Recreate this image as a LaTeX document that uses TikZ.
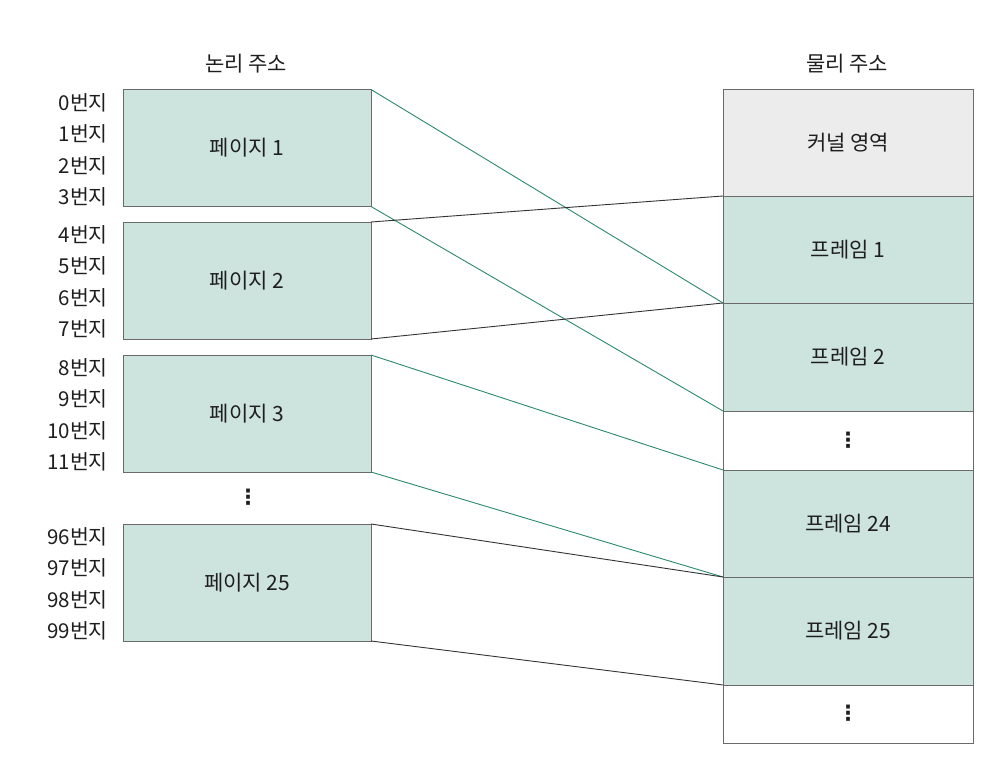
\documentclass[tikz,border=0pt]{standalone}
\usepackage{fontspec}
\setmainfont{Noto Sans CJK KR}
\newfontfamily\dvs{DejaVu Sans}
\definecolor{pagefill}{HTML}{CDE3DE}
\definecolor{kernfill}{HTML}{ECECEC}
\definecolor{boxline}{HTML}{6A6A6A}
\definecolor{mapgreen}{HTML}{2A8A6C}
\definecolor{mapblack}{HTML}{333333}
\definecolor{txt}{HTML}{1E1E1E}
\tikzset{
  membox/.style={draw=boxline, line width=0.8pt, inner sep=0pt, outer sep=0pt,
    text=txt, font=\fontsize{21}{24}\selectfont, rectangle},
  leftbox/.style={membox, fill=pagefill, minimum width=248pt, minimum height=117pt},
  rightbox/.style={membox, minimum width=250pt},
  addr/.style={anchor=east, inner sep=0pt, text=txt, font=\fontsize{20.5}{22}\selectfont},
  title/.style={inner sep=0pt, text=txt, font=\fontsize{21}{24}\selectfont},
  vdots/.style={inner sep=0pt, text=txt, font=\dvs\bfseries\fontsize{21}{24}\selectfont},
  greenmap/.style={draw=mapgreen, line width=0.9pt},
  blackmap/.style={draw=mapblack, line width=0.9pt}
}
\begin{document}
\begin{tikzpicture}[x=1pt,y=-1pt]
\useasboundingbox (0,0) rectangle (1002,773);
\fill[white] (0,0) rectangle (1002,773);

% titles
\node[title] (tl) at (246,64) {논리 주소};
\node[title] (tr) at (847,64) {물리 주소};

% logical pages
\node[leftbox] (p1) at (247,148) {페이지 1};
\node[leftbox] (p2) at (247,280.5) {페이지 2};
\node[leftbox] (p3) at (247,413.5) {페이지 3};
\node[vdots] (ld) at (248,497) {⋮};
\node[leftbox] (p25) at (247,582.5) {페이지 25};

% address labels
\foreach \i in {0,1,2,3} {
  \node[addr] (a\i) at (108,{103+\i*31.3}) {{\i}번지};
}
\foreach \i in {4,5,6,7} {
  \node[addr] (a\i) at (108,{235+(\i-4)*31.3}) {{\i}번지};
}
\foreach \i in {8,9,10,11} {
  \node[addr] (a\i) at (108,{368+(\i-8)*31.3}) {{\i}번지};
}
\foreach \i in {96,97,98,99} {
  \node[addr] (a\i) at (108,{537+(\i-96)*31.3}) {{\i}번지};
}

% physical frames
\node[rightbox, fill=kernfill, minimum height=107pt] (k) at (848,142.5) {커널 영역};
\node[rightbox, fill=pagefill, minimum height=107pt] (f1) at (848,249.5) {프레임 1};
\node[rightbox, fill=pagefill, minimum height=108pt] (f2) at (848,357) {프레임 2};
\node[rightbox, fill=white, minimum height=59pt] (d1) at (848,440.5) {};
\node[vdots] (d1t) at (848,440) {⋮};
\node[rightbox, fill=pagefill, minimum height=107pt] (f24) at (848,523.5) {프레임 24};
\node[rightbox, fill=pagefill, minimum height=108pt] (f25) at (848,631) {프레임 25};
\node[rightbox, fill=white, minimum height=58pt] (d2) at (848,714) {};
\node[vdots] (d2t) at (848,713) {⋮};

% mapping lines
\draw[greenmap] (p1.north east) -- (f1.south west);
\draw[greenmap] (p1.south east) -- (f2.south west);
\draw[blackmap] (p2.north east) -- (k.south west);
\draw[blackmap] (p2.south east) -- (f1.south west);
\draw[greenmap] (p3.north east) -- (f24.north west);
\draw[greenmap] (p3.south east) -- (f25.north west);
\draw[blackmap] (p25.north east) -- (f25.north west);
\draw[blackmap] (p25.south east) -- (f25.south west);
\end{tikzpicture}
\end{document}
